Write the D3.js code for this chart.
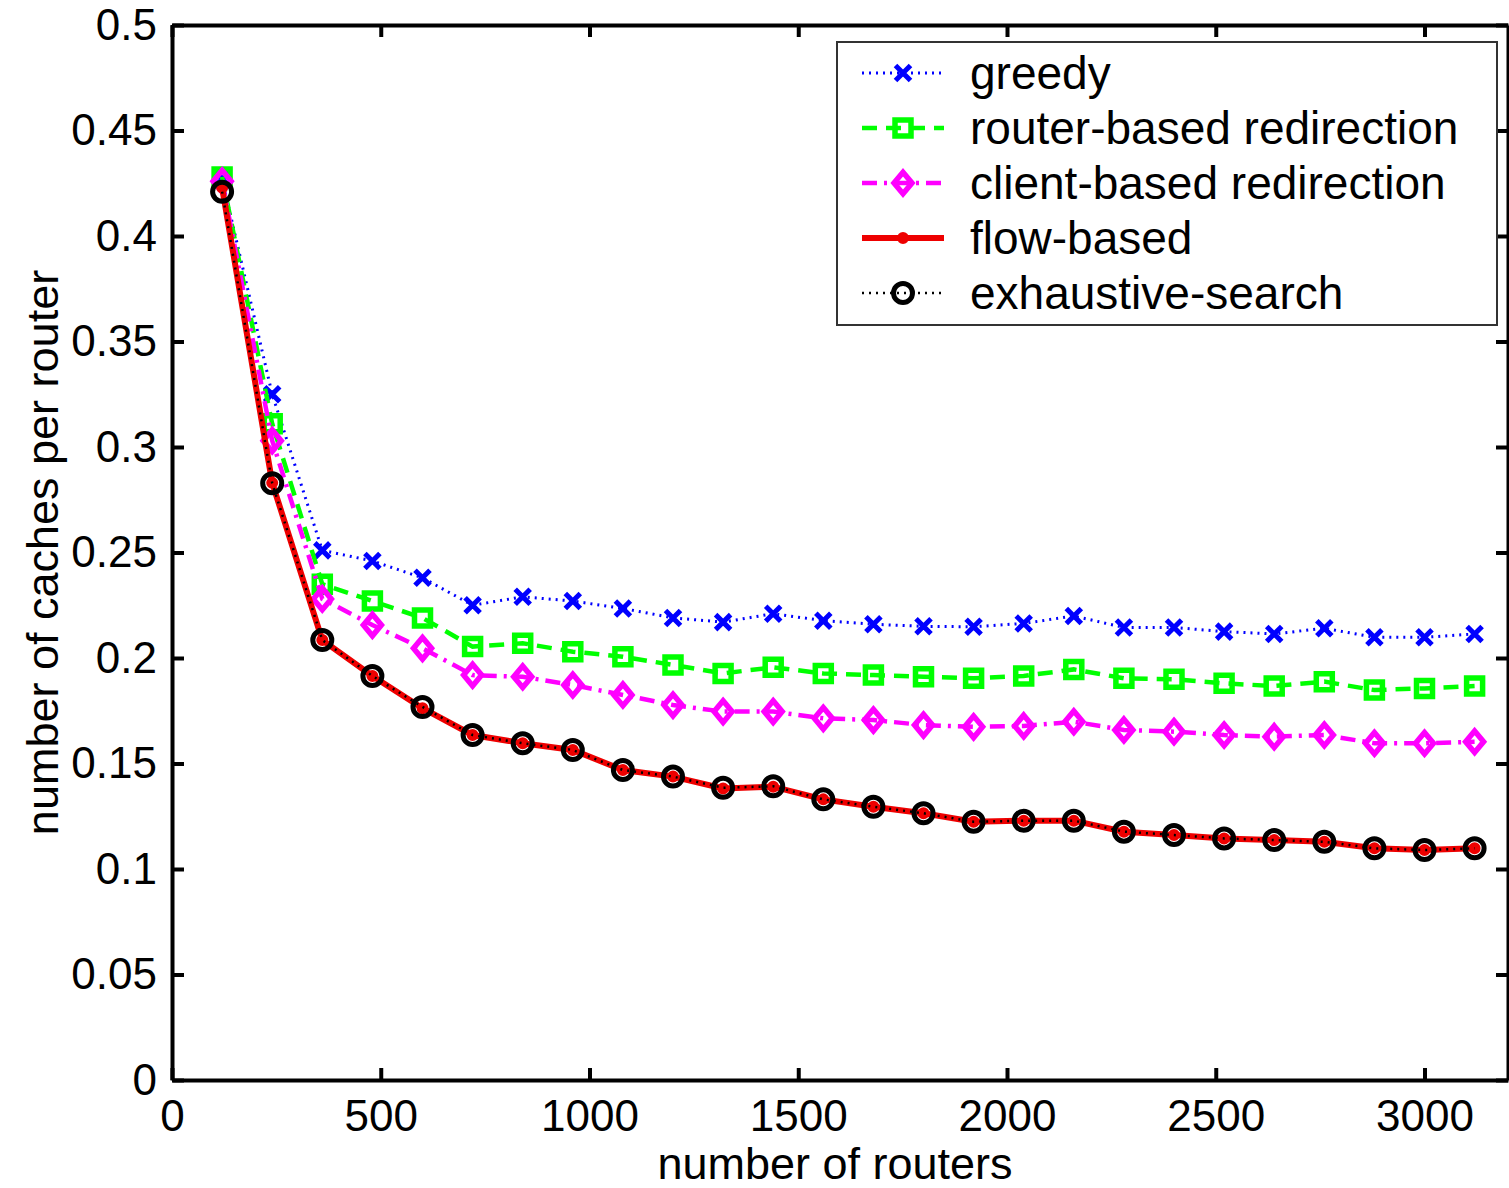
<!DOCTYPE html>
<html>
<head>
<meta charset="utf-8">
<script src="https://cdn.jsdelivr.net/npm/d3@7"></script>
<style>
  body { margin: 0; background: #fff; }
  text { font-family: "Liberation Sans", Arial, Helvetica, sans-serif; }
</style>
</head>
<body>
<div id="chart"></div>
<script>
// x values: number of routers
var routers = [120, 240, 360, 480, 600, 720, 840, 960, 1080, 1200, 1320, 1440, 1560,
               1680, 1800, 1920, 2040, 2160, 2280, 2400, 2520, 2640, 2760, 2880, 3000, 3120];

var greedy = [0.427, 0.325, 0.251, 0.246, 0.238, 0.225, 0.229, 0.227, 0.2235, 0.219, 0.217, 0.221, 0.2177,
              0.216, 0.215, 0.2148, 0.2164, 0.2199, 0.2145, 0.2145, 0.2125, 0.2114, 0.2141, 0.2098, 0.2098, 0.2114];
var routerBased = [0.428, 0.311, 0.235, 0.227, 0.219, 0.2054, 0.207, 0.203, 0.2006, 0.1967, 0.1927, 0.1956, 0.1927,
                   0.1919, 0.1911, 0.1904, 0.1915, 0.1946, 0.1904, 0.1899, 0.188, 0.1867, 0.1888, 0.1848, 0.1856, 0.1867];
var clientBased = [0.426, 0.303, 0.228, 0.2156, 0.2046, 0.1919, 0.1911, 0.1872, 0.1825, 0.1777, 0.1746, 0.1746, 0.1714,
                   0.1706, 0.1682, 0.1674, 0.1678, 0.1698, 0.1659, 0.1651, 0.1635, 0.1627, 0.1635, 0.1596, 0.1596, 0.1603];
var flowBased = [0.423, 0.283, 0.2085, 0.1915, 0.1762, 0.1635, 0.1596, 0.1564, 0.1469, 0.1438, 0.1382, 0.139, 0.133,
                 0.1295, 0.1264, 0.1224, 0.1229, 0.1229, 0.1177, 0.1161, 0.1145, 0.1137, 0.1129, 0.1098, 0.109, 0.1098];
var exhaustive = [0.421, 0.2828, 0.2085, 0.1915, 0.1768, 0.1635, 0.1596, 0.1564, 0.1469, 0.1438, 0.1385, 0.1392, 0.133,
                  0.1295, 0.1264, 0.1224, 0.1229, 0.1229, 0.1177, 0.1161, 0.1145, 0.1137, 0.1129, 0.1098, 0.109, 0.1098];

var seriesNames = ["greedy", "router-based redirection", "client-based redirection", "flow-based", "exhaustive-search"];

var xTicks = [0, 500, 1000, 1500, 2000, 2500, 3000];
var yTicks = [0, 0.05, 0.1, 0.15, 0.2, 0.25, 0.3, 0.35, 0.4, 0.45, 0.5];

// marker shapes
function markX(s) { return "M" + (-s) + "," + (-s) + "L" + s + "," + s + "M" + (-s) + "," + s + "L" + s + "," + (-s); }
function markSquare(s) { return "M" + (-s) + "," + (-s) + "H" + s + "V" + s + "H" + (-s) + "Z"; }
function markDiamond(s) { return "M0," + (-s * 1.2) + "L" + s + ",0L0," + (s * 1.2) + "L" + (-s) + ",0Z"; }
function markCircle(r) { return "M" + r + ",0A" + r + "," + r + " 0 1,1 " + (-r) + ",0A" + r + "," + r + " 0 1,1 " + r + ",0Z"; }

var styles = [
  { values: greedy, color: "#0000ff", width: 3, dash: "2,5", marker: markX(7.5), mfill: "none", mstroke: 5 },
  { values: routerBased, color: "#00ff00", width: 4.5, dash: "15,9", marker: markSquare(8), mfill: "none", mstroke: 5.5 },
  { values: clientBased, color: "#ff00ff", width: 4.5, dash: "15,7,3,7", marker: markDiamond(9), mfill: "none", mstroke: 5.5 },
  { values: flowBased, color: "#ee0000", width: 6, dash: null, marker: markCircle(5), mfill: "#ee0000", mstroke: 2 },
  { values: exhaustive, color: "#000000", width: 2.5, dash: "2,5", marker: markCircle(9.5), mfill: "none", mstroke: 5 }
];

var W = 1509, H = 1188;
var margin = {top: 25, right: 1, bottom: 108, left: 172},
    width = W - margin.left - margin.right,
    height = H - margin.top - margin.bottom;

var svg = d3.select("#chart")
  .append("svg")
    .attr("width", W)
    .attr("height", H)
  .append("g")
    .attr("transform", "translate(" + margin.left + "," + margin.top + ")");

var xScale = d3.scaleLinear().domain([0, 3200]).range([0, width]);
var yScale = d3.scaleLinear().domain([0, 0.5]).range([height, 0]);

function styleAxis(g) {
  g.selectAll("path.domain").attr("stroke", "#000").attr("stroke-width", 4);
  g.selectAll(".tick line").attr("stroke", "#000").attr("stroke-width", 4);
  g.selectAll(".tick text").attr("fill", "#000").style("font-size", "44px")
    .style("font-family", "'Liberation Sans', Arial, sans-serif");
}

// box axes with inward ticks
svg.append("g")
  .attr("transform", "translate(0," + height + ")")
  .call(d3.axisBottom(xScale).tickValues(xTicks).tickSizeInner(-12).tickSizeOuter(0).tickPadding(20)
        .tickFormat(d3.format("d")))
  .call(styleAxis)
  .selectAll(".tick text").attr("dy", "0.71em");

svg.append("g")
  .call(d3.axisTop(xScale).tickValues(xTicks).tickSizeInner(-12).tickSizeOuter(0).tickFormat(""))
  .call(styleAxis);

svg.append("g")
  .call(d3.axisLeft(yScale).tickValues(yTicks).tickSizeInner(-12).tickSizeOuter(0).tickPadding(15)
        .tickFormat(function(d) { return d3.format("~g")(d); }))
  .call(styleAxis);

svg.append("g")
  .attr("transform", "translate(" + width + ",0)")
  .call(d3.axisRight(yScale).tickValues(yTicks).tickSizeInner(-12).tickSizeOuter(0).tickFormat(""))
  .call(styleAxis);

// axis labels
svg.append("text")
  .attr("x", xScale(1600) - 5)
  .attr("y", height + 99)
  .attr("text-anchor", "middle")
  .style("font-size", "45px")
  .text("number of routers");

svg.append("text")
  .attr("transform", "rotate(-90)")
  .attr("x", -height / 2)
  .attr("y", 58 - margin.left)
  .attr("text-anchor", "middle")
  .style("font-size", "45px")
  .text("number of caches per router");

// lines and markers
var line = d3.line()
  .x(function(d) { return xScale(d[0]); })
  .y(function(d) { return yScale(d[1]); });

styles.forEach(function(s) {
  var pts = routers.map(function(r, i) { return [r, s.values[i]]; });
  svg.append("path")
    .datum(pts)
    .attr("d", line)
    .attr("fill", "none")
    .attr("stroke", s.color)
    .attr("stroke-width", s.width)
    .attr("stroke-dasharray", s.dash);
  svg.append("g").selectAll("path")
    .data(pts)
    .enter()
    .append("path")
    .attr("transform", function(d) { return "translate(" + xScale(d[0]) + "," + yScale(d[1]) + ")"; })
    .attr("d", s.marker)
    .attr("fill", s.mfill)
    .attr("stroke", s.color)
    .attr("stroke-width", s.mstroke);
});

// legend
var lg = svg.append("g").attr("transform", "translate(" + (837 - margin.left) + "," + (42 - margin.top) + ")");
lg.append("rect")
  .attr("width", 660)
  .attr("height", 283)
  .attr("fill", "#fff")
  .attr("stroke", "#333")
  .attr("stroke-width", 2);

seriesNames.forEach(function(name, i) {
  var s = styles[i];
  var cy = 31 + i * 55;
  lg.append("line")
    .attr("x1", 25).attr("x2", 107)
    .attr("y1", cy).attr("y2", cy)
    .attr("stroke", s.color)
    .attr("stroke-width", s.width)
    .attr("stroke-dasharray", s.dash);
  lg.append("path")
    .attr("transform", "translate(66," + cy + ")")
    .attr("d", s.marker)
    .attr("fill", s.mfill)
    .attr("stroke", s.color)
    .attr("stroke-width", s.mstroke);
  lg.append("text")
    .attr("x", 133)
    .attr("y", cy + 16)
    .style("font-size", "46px")
    .text(name);
});
</script>
</body>
</html>
